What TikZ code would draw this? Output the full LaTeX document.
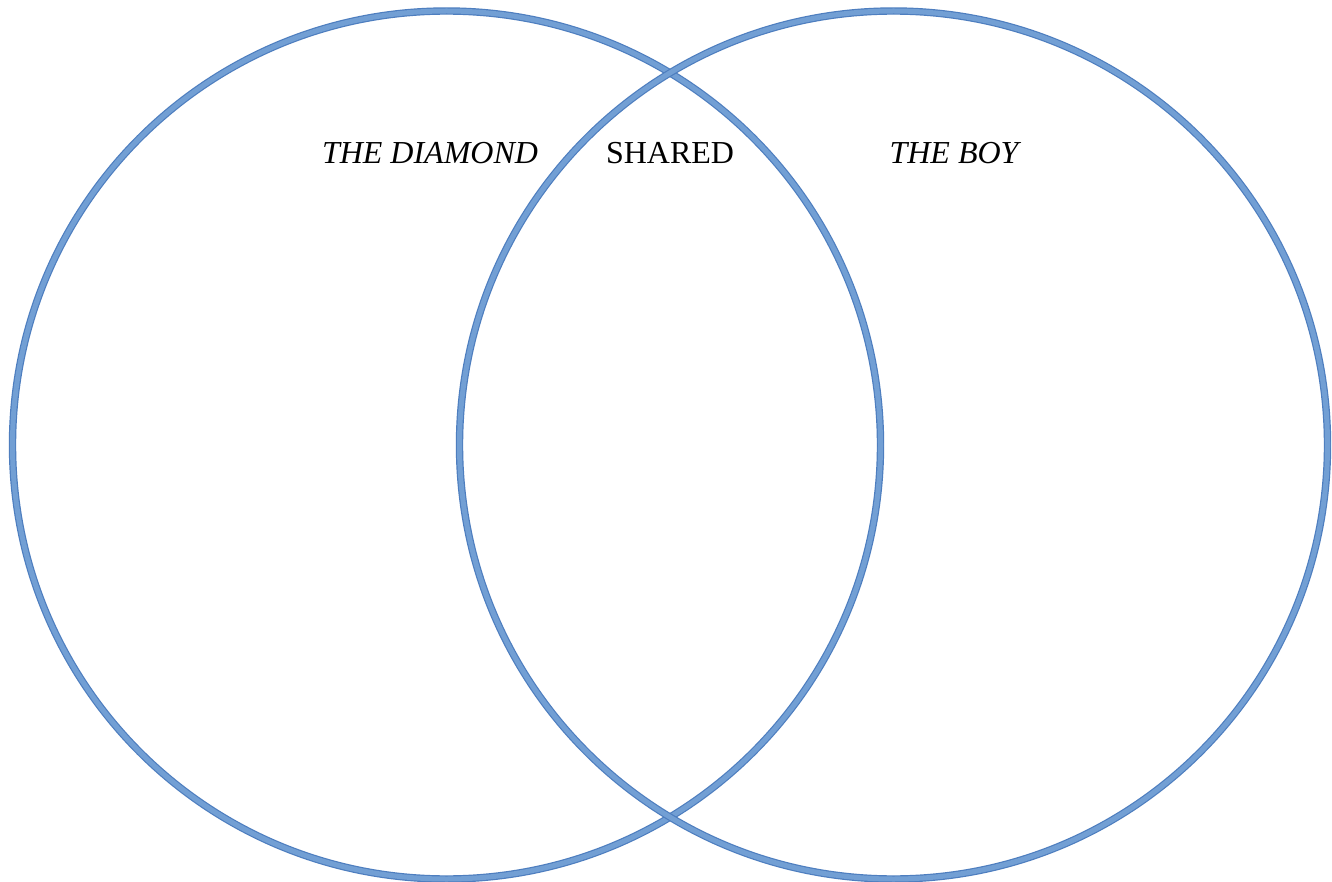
\documentclass[tikz,border=0pt]{standalone}
\usepackage{fontspec}
\setmainfont{Liberation Serif}
\definecolor{ringedge}{HTML}{4E7EBF}
\definecolor{ringfill}{HTML}{729FD4}
\tikzset{
  ring/.style={draw=ringedge, line width=1.2pt, double=ringfill, double distance=5pt},
  lbl/.style={font=\fontsize{32}{38}\selectfont, text=black, inner sep=0pt, anchor=center}
}
\begin{document}
\begin{tikzpicture}[x=1pt,y=-1pt]
\useasboundingbox (0,0) rectangle (1332,882);
\fill[white] (0,0) rectangle (1332,882);
\node[ring, circle, minimum size=868pt, inner sep=0pt] (left) at (446.5,445) {};
\node[ring, circle, minimum size=868pt, inner sep=0pt] (right) at (893.5,445) {};
\node[lbl, font=\fontsize{32}{38}\selectfont\itshape] (diamond) at (430,153) {THE DIAMOND};
\node[lbl] (shared) at (670,153) {SHARED};
\node[lbl, font=\fontsize{32}{38}\selectfont\itshape] (boy) at (954,153) {THE BOY};
\end{tikzpicture}
\end{document}
